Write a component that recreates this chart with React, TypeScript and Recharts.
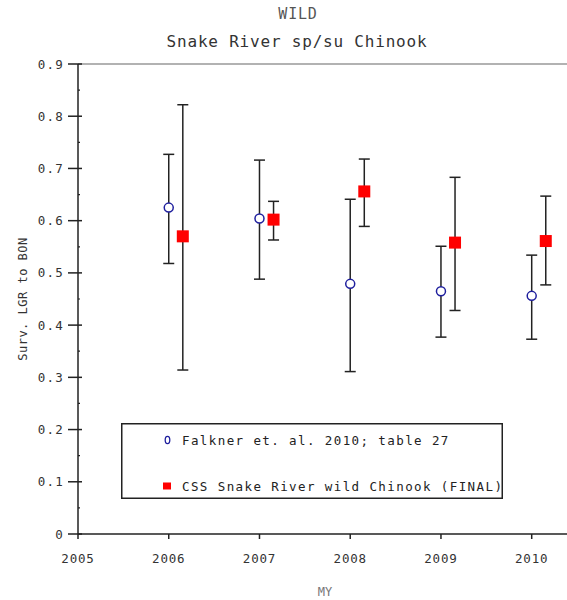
import React from "react";
import { ComposedChart, Scatter, ErrorBar, XAxis, YAxis, ReferenceLine, Legend } from "recharts";

const years = [2006, 2007, 2008, 2009, 2010];
const falknerMean = [0.625, 0.604, 0.479, 0.465, 0.456];
const falknerLow = [0.518, 0.488, 0.311, 0.377, 0.373];
const falknerHigh = [0.727, 0.716, 0.641, 0.551, 0.534];
const cssMean = [0.57, 0.602, 0.656, 0.558, 0.561];
const cssLow = [0.314, 0.563, 0.589, 0.428, 0.477];
const cssHigh = [0.822, 0.637, 0.718, 0.683, 0.647];
const xTicks = [2005, 2006, 2007, 2008, 2009, 2010];
const yTicks = [0, 0.05, 0.1, 0.15, 0.2, 0.25, 0.3, 0.35, 0.4, 0.45, 0.5, 0.55, 0.6, 0.65, 0.7, 0.75, 0.8, 0.85, 0.9];
const seriesNames = ["Falkner et. al. 2010; table 27", "CSS Snake River wild Chinook (FINAL)"];

// CSS points sit a little right of the year so the bars don't overlap
const CSS_SHIFT = 0.155;

const MONO = "'DejaVu Sans Mono', monospace";
const AXIS = "#222";
const BLUE = "#1f1f9e";
const RED = "#ff0000";

const falknerData = years.map((yr, i) => ({
  x: yr,
  y: falknerMean[i],
  err: [falknerMean[i] - falknerLow[i], falknerHigh[i] - falknerMean[i]],
}));
const cssData = years.map((yr, i) => ({
  x: yr + CSS_SHIFT,
  y: cssMean[i],
  err: [cssMean[i] - cssLow[i], cssHigh[i] - cssMean[i]],
}));

const OpenCircle = (p: any) => (
  <circle cx={p.cx} cy={p.cy} r={4.5} fill="#fff" stroke={BLUE} strokeWidth={1.5} />
);
const RedSquare = (p: any) => <rect x={p.cx - 6} y={p.cy - 6} width={12} height={12} fill={RED} />;

function YTick(props: any) {
  const { x, y, payload } = props;
  const v = payload.value as number;
  const major = Math.abs(v * 10 - Math.round(v * 10)) < 1e-6;
  if (!major) return <line x1={x} x2={x + 2} y1={y} y2={y} stroke={AXIS} strokeWidth={1.2} />;
  return (
    <g>
      <line x1={x - 10} x2={x + 4} y1={y} y2={y} stroke={AXIS} strokeWidth={1.5} />
      <text x={x - 14} y={y + 4.5} textAnchor="end" fontFamily={MONO} fontSize={12.5} letterSpacing={1.2} fill="#333">
        {v === 0 ? "0" : v.toFixed(1)}
      </text>
    </g>
  );
}

function XTick(props: any) {
  const { x, y, payload } = props;
  return (
    <g>
      <line x1={x} x2={x} y1={y} y2={y + 5} stroke={AXIS} strokeWidth={1.5} />
      <text x={x} y={y + 29} textAnchor="middle" fontFamily={MONO} fontSize={12.5} letterSpacing={0.8} fill="#333">
        {payload.value}
      </text>
    </g>
  );
}

function XLabel(props: any) {
  const vb = props.viewBox;
  return (
    <text x={vb.x + vb.width / 2 + 2} y={596} textAnchor="middle" fontFamily={MONO} fontSize={12} fill="#777">
      MY
    </text>
  );
}

function YLabel(props: any) {
  const vb = props.viewBox;
  const cy = vb.y + vb.height / 2;
  return (
    <text x={27} y={cy} transform={`rotate(-90, 27, ${cy})`} textAnchor="middle" fontFamily={MONO} fontSize={12} letterSpacing={0.5} fill="#333">
      Surv. LGR to BON
    </text>
  );
}

function LegendBox() {
  return (
    <svg width={382} height={76} style={{ display: "block" }}>
      <rect x={0.75} y={0.75} width={380.5} height={74.5} fill="#fff" stroke={AXIS} strokeWidth={1.5} />
      <ellipse cx={46.5} cy={17} rx={2.3} ry={3.6} fill="none" stroke={BLUE} strokeWidth={1.3} />
      <text x={61} y={21.5} fontFamily={MONO} fontSize={12.5} letterSpacing={1.4} fill="#222">
        {seriesNames[0]}
      </text>
      <rect x={42} y={59.5} width={8} height={7} fill={RED} />
      <text x={61} y={67.5} fontFamily={MONO} fontSize={12.5} letterSpacing={1.4} fill="#222">
        {seriesNames[1]}
      </text>
    </svg>
  );
}

export default function App() {
  return (
    <div style={{ position: "absolute", left: 0, top: 0, width: 567, height: 600, overflow: "hidden", background: "#fff" }}>
      <svg width={567} height={60} style={{ position: "absolute", left: 0, top: 0 }}>
        <text x={298} y={19} textAnchor="middle" fontFamily={MONO} fontSize={15} letterSpacing={0.8} fill="#555">
          WILD
        </text>
        <text x={297} y={46.5} textAnchor="middle" fontFamily={MONO} fontSize={16} letterSpacing={0.8} fill="#333">
          Snake River sp/su Chinook
        </text>
      </svg>
      <ComposedChart width={568} height={600} margin={{ top: 64, right: 0, bottom: 0, left: 0 }}>
        <XAxis
          type="number"
          dataKey="x"
          domain={[2005, 2010.4]}
          ticks={xTicks}
          interval={0}
          allowDataOverflow
          height={66}
          tickSize={0}
          tickMargin={0}
          tickLine={false}
          tick={<XTick />}
          axisLine={{ stroke: AXIS, strokeWidth: 1.5 }}
          label={<XLabel />}
        />
        <YAxis
          type="number"
          dataKey="y"
          domain={[0, 0.9]}
          ticks={yTicks}
          interval={0}
          width={78}
          tickSize={0}
          tickMargin={0}
          tickLine={false}
          tick={<YTick />}
          axisLine={{ stroke: AXIS, strokeWidth: 1.5 }}
          label={<YLabel />}
        />
        <ReferenceLine y={0.9} stroke="#999" strokeWidth={1.5} />
        <Scatter name={seriesNames[0]} data={falknerData} shape={<OpenCircle />} isAnimationActive={false}>
          <ErrorBar dataKey="err" direction="y" width={5.5} stroke={AXIS} strokeWidth={1.5} />
        </Scatter>
        <Scatter name={seriesNames[1]} data={cssData} shape={<RedSquare />} isAnimationActive={false}>
          <ErrorBar dataKey="err" direction="y" width={5.5} stroke={AXIS} strokeWidth={1.5} />
        </Scatter>
        <Legend
          layout="horizontal"
          verticalAlign="middle"
          content={<LegendBox />}
          wrapperStyle={{ position: "absolute", left: 121, top: 423, width: 382, height: 76 }}
        />
      </ComposedChart>
    </div>
  );
}
